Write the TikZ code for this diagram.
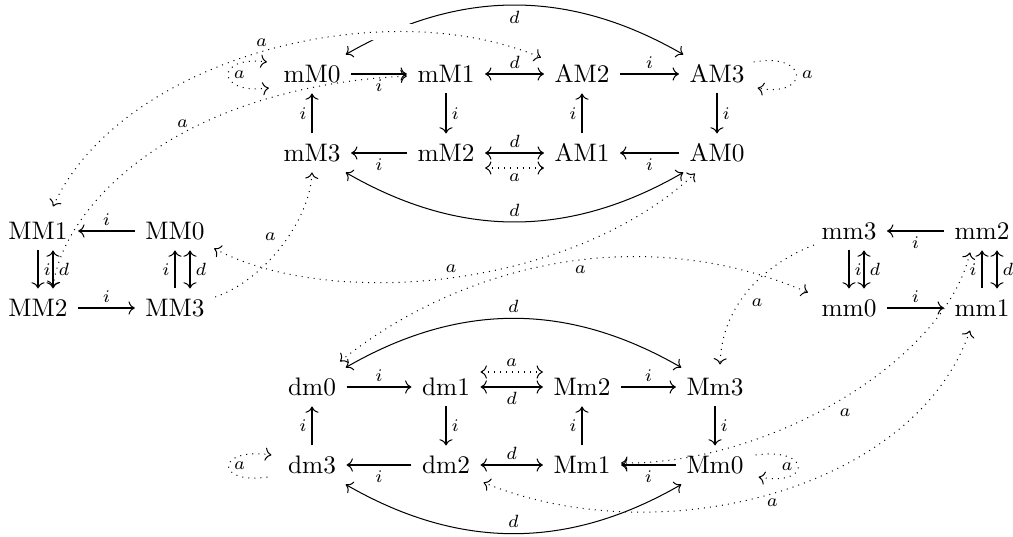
\documentclass[tikz,border=0pt]{standalone}
\usetikzlibrary{arrows.meta,calc}
\begin{document}
\begin{tikzpicture}[x=0.39487pt,y=-0.39487pt,
  >={Computer Modern Rightarrow},
  nd/.style={inner sep=4pt, text height=7pt, text depth=0pt},
  lbl/.style={inner sep=2pt},
  act/.style={dotted,<->},
  acto/.style={dotted,->}]
\useasboundingbox (0,0) rectangle (1013,537);
% nodes
\node[nd] (mM0) at (312,74) {mM0};
\node[nd] (mM1) at (446,74) {mM1};
\node[nd] (AM2) at (582,74) {AM2};
\node[nd] (AM3) at (717,74) {AM3};
\node[nd] (mM3) at (312,153) {mM3};
\node[nd] (mM2) at (446,153) {mM2};
\node[nd] (AM1) at (582,153) {AM1};
\node[nd] (AM0) at (717,153) {AM0};
\node[nd] (MM1) at (38,231) {MM1};
\node[nd] (MM0) at (175,231) {MM0};
\node[nd] (MM2) at (38,308) {MM2};
\node[nd] (MM3) at (175,308) {MM3};
\node[nd] (mm3) at (849,231) {mm3};
\node[nd] (mm2) at (982,231) {mm2};
\node[nd] (mm0) at (849,308) {mm0};
\node[nd] (mm1) at (982,308) {mm1};
\node[nd] (dm0) at (312,387) {dm0};
\node[nd] (dm1) at (446,387) {dm1};
\node[nd] (Mm2) at (582,387) {Mm2};
\node[nd] (Mm3) at (715,387) {Mm3};
\node[nd] (dm3) at (312,465) {dm3};
\node[nd] (dm2) at (446,465) {dm2};
\node[nd] (Mm1) at (582,465) {Mm1};
\node[nd] (Mm0) at (715,465) {Mm0};
% top block
\draw[->] (mM0) -- node[lbl,below]{$\scriptstyle i$} (mM1);
\draw[<->] (mM1) -- node[lbl,above]{$\scriptstyle d$} (AM2);
\draw[->] (AM2) -- node[lbl,above]{$\scriptstyle i$} (AM3);
\draw[->] (mM1) -- node[lbl,right]{$\scriptstyle i$} (mM2);
\draw[->] (AM1) -- node[lbl,left]{$\scriptstyle i$} (AM2);
\draw[->] (AM3) -- node[lbl,right]{$\scriptstyle i$} (AM0);
\draw[->] (mM3) -- node[lbl,left]{$\scriptstyle i$} (mM0);
\draw[->] (mM2) -- node[lbl,below]{$\scriptstyle i$} (mM3);
\draw[<->] (mM2) -- node[lbl,above]{$\scriptstyle d$} (AM1);
\draw[act] ($(mM2.east)+(0,15)$) -- node[lbl,below]{$\scriptstyle a$} ($(AM1.west)+(0,15)$);
\draw[->] (AM0) -- node[lbl,below]{$\scriptstyle i$} (AM1);
\draw[<->] (mM0) to[bend left=30] node[lbl,below]{$\scriptstyle d$} (AM3);
\draw[<->] (mM3) to[bend right=30] node[lbl,above]{$\scriptstyle d$} (AM0);
% left block
\draw[->] (MM0) -- node[lbl,above]{$\scriptstyle i$} (MM1);
\draw[->] (MM1) -- node[lbl,right]{$\scriptstyle i$} (MM2);
\draw[<->] ($(MM1.south)+(15,0)$) -- node[lbl,right]{$\scriptstyle d$} ($(MM2.north)+(15,0)$);
\draw[->] (MM2) -- node[lbl,above]{$\scriptstyle i$} (MM3);
\draw[->] (MM3) -- node[lbl,left]{$\scriptstyle i$} (MM0);
\draw[<->] ($(MM0.south)+(15,0)$) -- node[lbl,right]{$\scriptstyle d$} ($(MM3.north)+(15,0)$);
% right block
\draw[->] (mm2) -- node[lbl,below]{$\scriptstyle i$} (mm3);
\draw[->] (mm3) -- node[lbl,right]{$\scriptstyle i$} (mm0);
\draw[<->] ($(mm3.south)+(15,0)$) -- node[lbl,right]{$\scriptstyle d$} ($(mm0.north)+(15,0)$);
\draw[->] (mm0) -- node[lbl,above]{$\scriptstyle i$} (mm1);
\draw[->] (mm1) -- node[lbl,left]{$\scriptstyle i$} (mm2);
\draw[<->] ($(mm1.north)+(15,0)$) -- node[lbl,right]{$\scriptstyle d$} ($(mm2.south)+(15,0)$);
% bottom block
\draw[->] (dm0) -- node[lbl,above]{$\scriptstyle i$} (dm1);
\draw[<->] (dm1) -- node[lbl,below]{$\scriptstyle d$} (Mm2);
\draw[act] ($(dm1.east)+(0,-15)$) -- node[lbl,above]{$\scriptstyle a$} ($(Mm2.west)+(0,-15)$);
\draw[->] (Mm2) -- node[lbl,above]{$\scriptstyle i$} (Mm3);
\draw[->] (dm3) -- node[lbl,left]{$\scriptstyle i$} (dm0);
\draw[->] (dm1) -- node[lbl,right]{$\scriptstyle i$} (dm2);
\draw[->] (Mm1) -- node[lbl,left]{$\scriptstyle i$} (Mm2);
\draw[->] (Mm3) -- node[lbl,right]{$\scriptstyle i$} (Mm0);
\draw[->] (dm2) -- node[lbl,below]{$\scriptstyle i$} (dm3);
\draw[<->] (dm2) -- node[lbl,above]{$\scriptstyle d$} (Mm1);
\draw[->] (Mm0) -- node[lbl,below]{$\scriptstyle i$} (Mm1);
\draw[<->] (dm0) to[bend left=30] node[lbl,above]{$\scriptstyle d$} (Mm3);
\draw[<->] (dm3) to[bend right=30] node[lbl,above]{$\scriptstyle d$} (Mm0);
% a-curves
\begin{scope}
\clip (345,0) rectangle (470,50);
\draw[white, line width=6pt] ($(MM1.north)+(15,-5)$) .. controls (120,60) and (380,-10) .. ($(AM2.north west)+(-3,3)$);
\end{scope}
\draw[act] ($(MM1.north)+(15,-5)$) .. controls (120,60) and (380,-10) .. ($(AM2.north west)+(-3,3)$) node[lbl,pos=.5,above]{$\scriptstyle a$};
\draw[act] ($(MM2.north)+(15,-1)$) .. controls (62,210) and (170,88) .. ($(mM1.west)+(0,2)$) node[lbl,pos=.6,above]{$\scriptstyle a$};
\draw[acto] ($(MM3.east)+(0,-11)$) .. controls (265,280) and (310,220) .. (mM3.south) node[lbl,pos=.5,above left]{$\scriptstyle a$};
\draw[act] ($(MM0.south east)+(-1,-2)$) .. controls (330,310) and (570,290) .. ($(AM0.south)+(-22,1)$) node[lbl,pos=.5,above]{$\scriptstyle a$};
\draw[act] ($(dm0.north)+(28,-6)$) .. controls (460,265) and (640,220) .. ($(mm0.north west)+(-3,4)$) node[lbl,pos=.55,below]{$\scriptstyle a$};
\draw[acto] ($(mm3.west)+(3,14)$) .. controls (770,262) and (722,300) .. ($(Mm3.north)+(5,-3)$) node[lbl,pos=.55,below right]{$\scriptstyle a$};
\draw[act] ($(mm2.south)+(-12,2)$) .. controls (945,360) and (770,465) .. ($(Mm1.east)+(0,-2)$) node[lbl,pos=.52,below right]{$\scriptstyle a$};
\draw[act] ($(mm1.south)+(-12,3)$) .. controls (915,490) and (660,555) .. ($(dm2.south east)+(3,-2)$) node[lbl,pos=.5,below]{$\scriptstyle a$};
% loops
\draw[act] ($(mM0.west)+(-4,14)$) .. controls (215,95) and (215,55) .. ($(mM0.west)+(-6,-12)$) node[lbl,pos=.5,right]{$\scriptstyle a$};
\draw[acto] ($(dm3.west)+(-10,12)$) .. controls (215,485) and (215,447) .. ($(dm3.west)+(-6,-10)$) node[lbl,pos=.5,right]{$\scriptstyle a$};
\draw[acto] ($(AM3.east)+(-1.5,-12)$) .. controls (810,52) and (810,98) .. ($(AM3.east)+(2.5,14)$) node[lbl,pos=.5,right]{$\scriptstyle a$};
\draw[acto] ($(Mm0.east)+(1.5,-10)$) .. controls (812,447) and (812,487) .. ($(Mm0.east)+(4.5,12)$) node[lbl,pos=.5,left]{$\scriptstyle a$};
\end{tikzpicture}
\end{document}
